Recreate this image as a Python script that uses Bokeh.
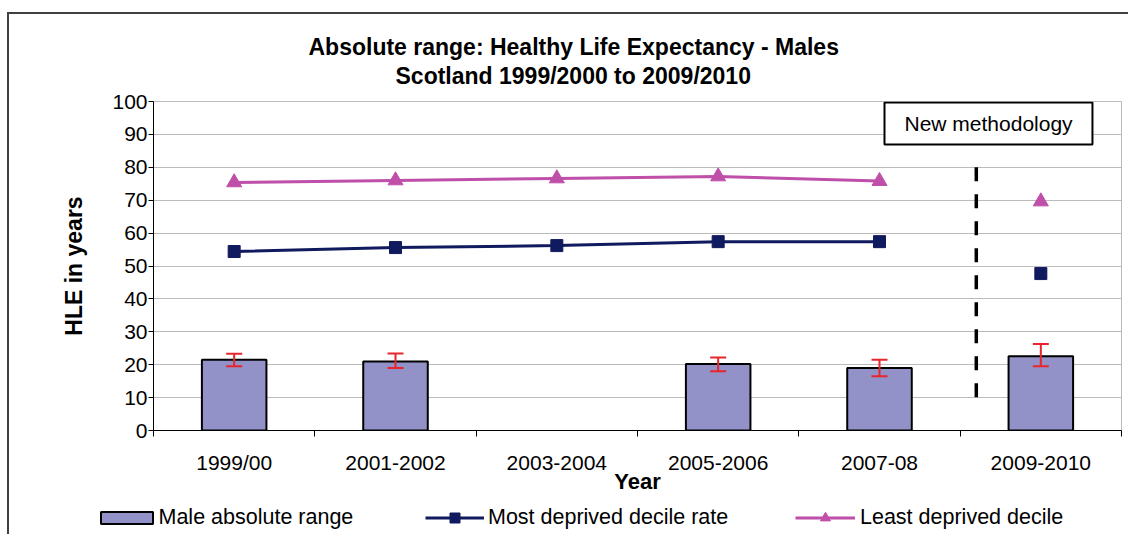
import numpy as np
from bokeh.plotting import figure
from bokeh.models import (Range1d, FixedTicker, CustomJSTickFormatter, Whisker, TeeHead,
                          ColumnDataSource, Label, BoxAnnotation, Legend, LegendItem, Title)
from bokeh.embed import file_html
from bokeh.resources import INLINE

# ---- data ----
years = ["1999/00", "2001-2002", "2003-2004", "2005-2006", "2007-08", "2009-2010"]
absolute_range = [21.5, 21.0, np.nan, 20.2, 19.0, 22.6]
range_lower = [19.5, 19.0, np.nan, 18.0, 16.5, 19.5]
range_upper = [23.3, 23.4, np.nan, 22.2, 21.5, 26.3]
most_deprived = [54.4, 55.6, 56.2, 57.4, 57.4, 47.7]
least_deprived = [75.4, 76.0, 76.6, 77.2, 75.8, 69.6]
n_old_method = 5  # first five periods share the old methodology
series_names = ["Male absolute range", "Most deprived decile rate", "Least deprived decile"]

FONT = "Liberation Sans"
BAR_FILL = "#9292C8"
NAVY = "#101A5E"
MAGENTA = "#BF4FA8"
RED = "#E8242C"

xc = np.arange(len(years)) + 0.5

p = figure(frame_width=968, frame_height=329, output_backend="svg", toolbar_location=None,
           x_range=Range1d(0, 6), y_range=Range1d(0, 100),
           min_border_left=144, min_border_right=7, min_border_top=87, min_border_bottom=66)
p.margin = (12, 0, 0, 7)
p.styles = {"border-top": "2px solid #404040", "border-left": "2px solid #404040"}
p.background_fill_color = "white"
p.border_fill_color = "white"
p.outline_line_color = "#BBBBBB"

# axes
p.xaxis.ticker = FixedTicker(ticks=list(xc), minor_ticks=list(range(len(years) + 1)))
p.xaxis.formatter = CustomJSTickFormatter(args=dict(labels=years),
                                          code="return labels[Math.round(tick - 0.5)];")
p.xaxis.major_tick_out = 0
p.xaxis.major_tick_in = 0
p.xaxis.minor_tick_out = 6
p.xaxis.minor_tick_in = 0
p.xaxis.minor_tick_line_color = "black"
p.xaxis.axis_line_color = "black"
p.xaxis.major_label_standoff = 14
p.xaxis.major_label_text_font = FONT
p.xaxis.major_label_text_font_size = "21px"
p.xaxis.major_label_text_color = "black"
p.xaxis.axis_label = "Year"
p.xaxis.axis_label_text_font = FONT
p.xaxis.axis_label_text_font_size = "22px"
p.xaxis.axis_label_text_font_style = "bold"
p.xaxis.axis_label_text_color = "black"
p.xaxis.axis_label_standoff = -8

p.yaxis.ticker = FixedTicker(ticks=list(range(0, 101, 10)))
p.yaxis.major_tick_out = 5
p.yaxis.major_tick_in = 0
p.yaxis.minor_tick_line_color = None
p.yaxis.axis_line_color = "black"
p.yaxis.major_tick_line_color = "black"
p.yaxis.major_label_standoff = 1
p.yaxis.major_label_text_font = FONT
p.yaxis.major_label_text_font_size = "21px"
p.yaxis.major_label_text_color = "black"
p.yaxis.axis_label = "HLE in years"
p.yaxis.axis_label_text_font = FONT
p.yaxis.axis_label_text_font_size = "23px"
p.yaxis.axis_label_text_font_style = "bold"
p.yaxis.axis_label_text_color = "black"
p.yaxis.axis_label_standoff = 22

p.xgrid.grid_line_color = None
p.ygrid.grid_line_color = "#BBBBBB"
p.ygrid.grid_line_width = 1

# bars + error bars
src = ColumnDataSource(dict(x=xc, top=absolute_range, lower=range_lower, upper=range_upper))
p.vbar(x="x", top="top", width=0.4, bottom=0, source=src,
       fill_color=BAR_FILL, line_color="black", line_width=2)
whisk = Whisker(base="x", lower="lower", upper="upper", source=src, dimension="height",
                line_color=RED, line_width=2, level="annotation",
                upper_head=TeeHead(size=16, line_color=RED, line_width=2),
                lower_head=TeeHead(size=16, line_color=RED, line_width=2))
p.add_layout(whisk)

# lines
p.line(xc[:n_old_method], most_deprived[:n_old_method], line_color=NAVY, line_width=3)
p.scatter(xc, most_deprived, marker="square", size=12, fill_color=NAVY, line_color=NAVY)
p.line(xc[:n_old_method], least_deprived[:n_old_method], line_color=MAGENTA, line_width=3)
p.scatter(xc, least_deprived, marker="triangle", size=15, fill_color=MAGENTA, line_color=MAGENTA)

# methodology divider
p.segment(x0=[5.1], y0=[80], x1=[5.1], y1=[7.6], line_color="black", line_width=3.5,
          line_dash="14 13")
p.add_layout(BoxAnnotation(left=4.531, right=5.82, top=99.7, bottom=86.9,
                           fill_color="white", fill_alpha=1, line_color="black",
                           line_alpha=1, line_width=2))
p.add_layout(Label(x=5.176, y=93.3, text="New methodology", text_align="center",
                   text_baseline="middle", text_font=FONT, text_font_size="21px", text_color="black"))

# titles (second line nearest the frame)
p.add_layout(Title(text="Scotland 1999/2000 to 2009/2010", align="left", offset=242,
                   standoff=26, text_font=FONT, text_font_size="23px",
                   text_font_style="bold", text_color="black"), "above")
p.add_layout(Title(text="Absolute range: Healthy Life Expectancy - Males", align="left",
                   offset=155, standoff=-24, text_font=FONT,
                   text_font_size="23px", text_font_style="bold", text_color="black"), "above")

# ---- legend strip under the chart (separate root, so its frame is not aligned) ----
lf = figure(width=1119, height=38, output_backend="svg", toolbar_location=None,
            x_axis_type=None, y_axis_type=None, x_range=Range1d(0, 1), y_range=Range1d(0, 1),
            min_border_left=0, min_border_right=0, min_border_top=0, min_border_bottom=0)
lf.margin = (0, 0, 0, 7)
lf.styles = {"border-left": "2px solid #404040"}
lf.outline_line_color = None
lf.background_fill_color = "white"
lf.border_fill_color = "white"
lb = lf.vbar(x=[np.nan], top=[np.nan], width=0.4, fill_color=BAR_FILL, line_color="black",
             line_width=2)
l_md = lf.line(x=[np.nan], y=[np.nan], line_color=NAVY, line_width=3)
s_md = lf.scatter(x=[np.nan], y=[np.nan], marker="square", fill_color=NAVY, line_color=NAVY)
l_ld = lf.line(x=[np.nan], y=[np.nan], line_color=MAGENTA, line_width=3)
s_ld = lf.scatter(x=[np.nan], y=[np.nan], marker="triangle", fill_color=MAGENTA, line_color=MAGENTA)


def add_legend(label, renderers, x, gw, gh, standoff):
    lg = Legend(items=[LegendItem(label=label, renderers=renderers)], location=(x, 4.5),
                orientation="horizontal", glyph_width=gw, glyph_height=gh,
                label_standoff=standoff, label_width=0, padding=0, margin=0, spacing=0,
                border_line_color=None, background_fill_alpha=0, label_text_font=FONT,
                label_text_font_size="21.5px", label_text_color="black")
    lf.add_layout(lg)


add_legend(series_names[0], [lb], 84.5, 65, 15, 0)
add_legend(series_names[1], [l_md, s_md], 416, 59, 25, 4)
add_legend(series_names[2], [l_ld, s_ld], 786, 60, 25, 5)

open("out.html", "w").write(file_html([p, lf], INLINE))
